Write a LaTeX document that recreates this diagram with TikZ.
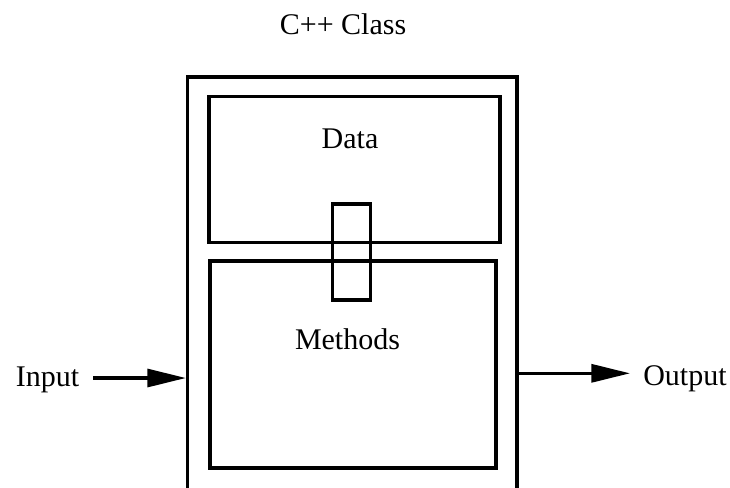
\documentclass[tikz,border=0pt]{standalone}
\usepackage{fontspec}
\setmainfont{Liberation Serif}
\usetikzlibrary{arrows.meta}

\begin{document}
\begin{tikzpicture}[x=0.75pt, y=-0.75pt,
    box/.style={draw, line width=2.4pt, inner sep=0pt},
    lbl/.style={inner sep=0pt, font=\fontsize{22.5}{27}\selectfont},
    arr/.style={line width=2.4pt, -{Triangle[length=29pt, width=13.5pt]}}]
    \useasboundingbox (0,0) rectangle (730,487);
    \node[box, minimum width=247.1pt, minimum height=313.5pt] (cls) at (352.25,286) {};
    \node[box, minimum width=218.25pt, minimum height=109.5pt] (data) at (354.5,169.7) {};
    \node[box, minimum width=214.5pt, minimum height=155.25pt] (methods) at (353,364.5) {};
    \node[box, minimum width=28.8pt, minimum height=72pt] (link) at (351.5,252) {};
    \node[lbl, anchor=base] (title) at (343,34) {C++ Class};
    \node[lbl, anchor=base] (datalbl) at (350,148) {Data};
    \node[lbl, anchor=base] (methodslbl) at (347.5,349) {Methods};
    \node[lbl, anchor=base] (in) at (47.5,386.7) {Input};
    \node[lbl, anchor=base west] (out) at (643,385) {Output};
    \coordinate (inbeg) at (93,378);
    \coordinate (outtip) at (630,373.3);
    \draw[arr] (inbeg) -- (cls.west |- inbeg);
    \draw[arr] (cls.east |- outtip) -- (outtip);
\end{tikzpicture}
\end{document}
